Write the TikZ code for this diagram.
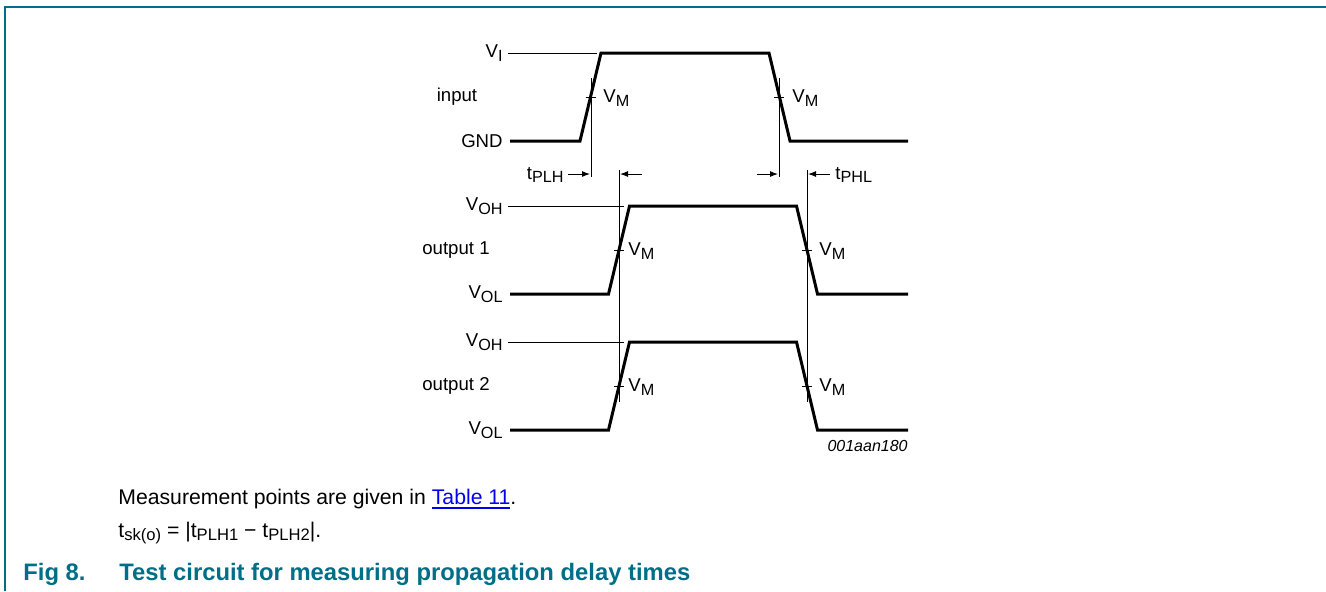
\documentclass[tikz,border=0pt]{standalone}
\usepackage{fontspec}
\setmainfont{Liberation Sans}
\usetikzlibrary{arrows.meta}
\definecolor{nxpteal}{RGB}{0,110,135}
\definecolor{linkblue}{RGB}{0,0,238}
\newcommand\lbsub[1]{\raisebox{-1.8pt}{\fontsize{8.1}{9}\selectfont #1}}
\newcommand\txsub[1]{\raisebox{-1.8pt}{\fontsize{8.3}{9}\selectfont #1}}
\newcommand\myul[1]{\setbox0\hbox{#1}\rlap{\rule[-2.6pt]{\wd0}{0.9pt}}\box0}
\begin{document}
\begin{tikzpicture}[x=0.5pt,y=-0.5pt,
  wave/.style={line width=1.5pt, line join=miter},
  thinl/.style={line width=0.5pt},
  lbl/.style={inner sep=0pt, font=\fontsize{9.3}{11}\selectfont},
  darr/.style={line width=0.5pt,-{Latex[length=4pt,width=3pt]}},
  body/.style={anchor=base west, inner sep=0pt, font=\fontsize{10.6}{13}\selectfont},
  capt/.style={anchor=base west, inner sep=0pt, font=\fontsize{11.9}{14}\selectfont\bfseries, text=nxpteal}
 ]
\useasboundingbox (0,0) rectangle (1326,591);
\draw[nxpteal, line width=1pt] (1326,7) -- (5,7) -- (5,591);

% ---------- input ----------
\draw[wave] (510,141) -- (580,141) -- (601,53) -- (769,53) -- (790,141) -- (908,141);
\draw[thinl] (508,53) -- (597,53);
\draw[thinl] (591,78) -- (591,177);
\draw[thinl] (586,97) -- (596,97);
\draw[thinl] (779,78) -- (779,177);
\draw[thinl] (774,97) -- (784,97);
\node[lbl, anchor=east] (vi) at (503,53) {V\lbsub{I}};
\node[lbl] (inp) at (457,97) {input};
\node[lbl, anchor=east] (gnd) at (503,141) {GND};
\node[lbl, anchor=west] (vm1) at (603,98) {V\lbsub{M}};
\node[lbl, anchor=west] (vm2) at (792,98) {V\lbsub{M}};

% ---------- delay arrows ----------
\node[lbl, anchor=east] (tplh) at (564,175) {t\lbsub{PLH}};
\node[lbl, anchor=west] (tphl) at (835,175) {t\lbsub{PHL}};
\coordinate (a1s) at (568,174); \coordinate (a1e) at (590,174);
\coordinate (a2s) at (642,174); \coordinate (a2e) at (620,174);
\coordinate (a3s) at (757,174); \coordinate (a3e) at (778,174);
\coordinate (a4s) at (830,174); \coordinate (a4e) at (808,174);
\draw[darr] (a1s) -- (a1e);
\draw[darr] (a2s) -- (a2e);
\draw[darr] (a3s) -- (a3e);
\draw[darr] (a4s) -- (a4e);
\draw[thinl] (619,170) -- (619,402);
\draw[thinl] (807,170) -- (807,402);

% ---------- output 1 ----------
\draw[wave] (510,294) -- (608.5,294) -- (629.5,206) -- (796.5,206) -- (817.5,294) -- (908,294);
\draw[thinl] (508,206) -- (624,206);
\draw[thinl] (614,250) -- (624,250);
\draw[thinl] (802,250) -- (812,250);
\node[lbl, anchor=east] (voh1) at (503,206) {V\lbsub{OH}};
\node[lbl] (out1) at (456,250) {output 1};
\node[lbl, anchor=east] (vol1) at (503,294) {V\lbsub{OL}};
\node[lbl, anchor=west] (vm3) at (628,251) {V\lbsub{M}};
\node[lbl, anchor=west] (vm4) at (819,251) {V\lbsub{M}};

% ---------- output 2 ----------
\draw[wave] (510,430) -- (608.5,430) -- (629.5,342) -- (796.5,342) -- (817.5,430) -- (908,430);
\draw[thinl] (508,342) -- (624,342);
\draw[thinl] (614,386) -- (624,386);
\draw[thinl] (802,386) -- (812,386);
\node[lbl, anchor=east] (voh2) at (503,342) {V\lbsub{OH}};
\node[lbl] (out2) at (456,386) {output 2};
\node[lbl, anchor=east] (vol2) at (503,430) {V\lbsub{OL}};
\node[lbl, anchor=west] (vm5) at (628,387) {V\lbsub{M}};
\node[lbl, anchor=west] (vm6) at (819,387) {V\lbsub{M}};

\node[inner sep=0pt, anchor=east, font=\fontsize{8}{10}\selectfont\itshape] (code) at (908,446) {001aan180};

% ---------- text ----------
\node[body] (meas) at (118,504) {Measurement points are given in {\color{linkblue}\myul{Table 11}}.};
\node[body] (tsk) at (118,537) {t\txsub{sk(o)} = |t\txsub{PLH1} − t\txsub{PLH2}|.};
\node[capt] (fig) at (23,580) {Fig 8.};
\node[capt] (title) at (119,580) {Test circuit for measuring propagation delay times};
\end{tikzpicture}
\end{document}
